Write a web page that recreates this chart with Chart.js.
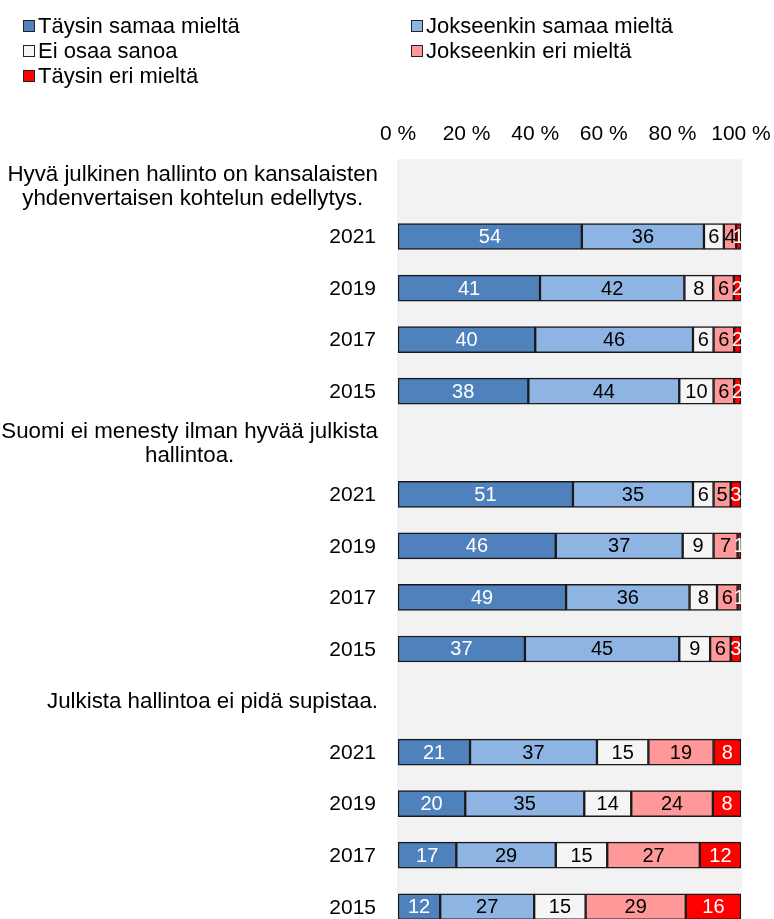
<!DOCTYPE html>
<html lang="fi">
<head>
    <meta charset="UTF-8">
    <title>Hyvä julkinen hallinto</title>
    <style>
        body { margin: 0; background: #fff; overflow: hidden; font-family: "Liberation Sans", Arial, sans-serif; }
        #wrap { position: relative; width: 774px; height: 919px; overflow: hidden; }
        #chart { position: absolute; left: 0; top: 0; }
        .leg { position: absolute; font-size: 22px; color: #000; white-space: nowrap; line-height: 24px; }
        .leg i { position: absolute; left: -15px; top: 6px; width: 10px; height: 10px; border: 1px solid #222; }
    </style>
</head>
<body>
    <div id="wrap">
        <canvas id="chart" width="774" height="940"></canvas>
    </div>

    <script src="https://cdn.jsdelivr.net/npm/chart.js"></script>
    <script>
        // väittämät ja vuodet
        const statements = [
            ['Hyvä julkinen hallinto on kansalaisten', 'yhdenvertaisen kohtelun edellytys.'],
            ['Suomi ei menesty ilman hyvää julkista', 'hallintoa.'],
            ['Julkista hallintoa ei pidä supistaa.']
        ];
        const years = ['2021', '2019', '2017', '2015'];
        const seriesNames = ['Täysin samaa mieltä', 'Jokseenkin samaa mieltä', 'Ei osaa sanoa', 'Jokseenkin eri mieltä', 'Täysin eri mieltä'];
        const tickValues = [0, 20, 40, 60, 80, 100];

        // prosentit, järjestys: väittämä 1 (2021..2015), väittämä 2, väittämä 3
        const taysinSamaa     = [53.6, 41.4, 40, 38, 51, 46, 49, 37, 21, 19.6, 17, 12.3];
        const jokseenkinSamaa = [35.6, 42.1, 46, 44, 35, 37, 36, 45, 37, 34.7, 29, 27.4];
        const eiOsaa          = [5.8, 8.4, 6, 10, 6, 9, 8, 9, 15, 13.7, 15, 15.0];
        const jokseenkinEri   = [3.6, 6.0, 6, 6, 5, 7, 6, 6, 19, 23.8, 27, 29.2];
        const taysinEri       = [1.4, 2.1, 2, 2, 3, 1, 1, 3, 8, 8.2, 12, 16.1];

        const colors = ['#4F81BD', '#8EB4E3', '#F5F5F5', '#FF9999', '#FF0000'];
        const labelColors = ['#fff', '#000', '#000', '#000', '#fff'];
        const FONT = '"Liberation Sans", Arial, sans-serif';

        // rivit: otsikkorivi + 4 vuotta per väittämä
        const rowLabels = [];
        const rowIndex = [];
        statements.forEach((s, si) => {
            rowLabels.push(s);
            rowIndex.push(null);
            years.forEach((y, yi) => {
                rowLabels.push(y);
                rowIndex.push(si * years.length + yi);
            });
        });

        const allSeries = [taysinSamaa, jokseenkinSamaa, eiOsaa, jokseenkinEri, taysinEri];
        const datasets = allSeries.map((arr, i) => ({
            label: seriesNames[i],
            data: rowIndex.map(r => r === null ? null : arr[r]),
            backgroundColor: colors[i],
            borderColor: '#1a1a1a',
            borderWidth: 1.5,
            borderSkipped: false,
            barThickness: 26
        }));

        // legenda kahteen sarakkeeseen
        const wrap = document.getElementById('wrap');
        seriesNames.forEach((name, i) => {
            const d = document.createElement('div');
            d.className = 'leg';
            d.style.left = (i % 2 === 0 ? 38 : 426) + 'px';
            d.style.top = (14 + Math.floor(i / 2) * 25) + 'px';
            d.innerHTML = '<i style="background:' + colors[i] + '"></i>' + name;
            wrap.appendChild(d);
        });

        const plotBackground = {
            id: 'plotBackground',
            beforeDraw(chart) {
                const a = chart.chartArea;
                const ctx = chart.ctx;
                ctx.save();
                ctx.fillStyle = '#F2F2F2';
                ctx.fillRect(a.left - 1, a.top, a.right - a.left + 2, a.bottom - a.top);
                ctx.restore();
            }
        };

        const rowText = {
            id: 'rowText',
            afterDraw(chart) {
                const ctx = chart.ctx;
                const yScale = chart.scales.y;
                const right = 378;
                ctx.save();
                ctx.fillStyle = '#000';
                ctx.textBaseline = 'middle';
                rowLabels.forEach((lab, i) => {
                    const y = yScale.getPixelForValue(i);
                    if (Array.isArray(lab)) {
                        ctx.font = '22.3px ' + FONT;
                        const w = Math.max(...lab.map(l => ctx.measureText(l).width));
                        const cx = right - w / 2;
                        const lh = 24;
                        ctx.textAlign = 'center';
                        lab.forEach((l, li) => {
                            ctx.fillText(l, cx, y + 1.5 + (li - (lab.length - 1) / 2) * lh);
                        });
                    } else {
                        ctx.font = '21px ' + FONT;
                        ctx.textAlign = 'right';
                        ctx.fillText(lab, right - 2, y + 1);
                    }
                });
                ctx.restore();
            }
        };

        const barLabels = {
            id: 'barLabels',
            afterDatasetsDraw(chart) {
                const ctx = chart.ctx;
                const a = chart.chartArea;
                ctx.save();
                ctx.beginPath();
                ctx.rect(a.left, a.top, a.right - a.left, a.bottom - a.top);
                ctx.clip();
                ctx.font = '20px ' + FONT;
                ctx.textAlign = 'center';
                ctx.textBaseline = 'middle';
                chart.data.datasets.forEach((ds, di) => {
                    const meta = chart.getDatasetMeta(di);
                    meta.data.forEach((el, i) => {
                        const v = ds.data[i];
                        if (v === null) return;
                        ctx.fillStyle = labelColors[di];
                        ctx.fillText(String(Math.round(v)), (el.x + el.base) / 2, el.y + 1);
                    });
                });
                ctx.restore();
            }
        };

        new Chart(document.getElementById('chart'), {
            type: 'bar',
            data: { labels: rowLabels, datasets: datasets },
            options: {
                indexAxis: 'y',
                responsive: false,
                animation: false,
                layout: { padding: { left: 398, right: 33, top: 118, bottom: 7.5 } },
                plugins: {
                    legend: { display: false },
                    tooltip: { enabled: false }
                },
                scales: {
                    x: {
                        position: 'top',
                        stacked: true,
                        min: 0,
                        max: 100,
                        afterBuildTicks(scale) {
                            scale.ticks = tickValues.map(v => ({ value: v }));
                        },
                        afterFit(scale) {
                            scale.paddingLeft = 0;
                            scale.paddingRight = 0;
                        },
                        grid: { display: false },
                        border: { display: false },
                        ticks: {
                            color: '#000',
                            font: { family: FONT, size: 21 },
                            padding: 4,
                            maxRotation: 0,
                            autoSkip: false,
                            callback: v => v + ' %'
                        }
                    },
                    y: {
                        stacked: true,
                        display: false
                    }
                }
            },
            plugins: [plotBackground, barLabels, rowText]
        });
    </script>
</body>
</html>
